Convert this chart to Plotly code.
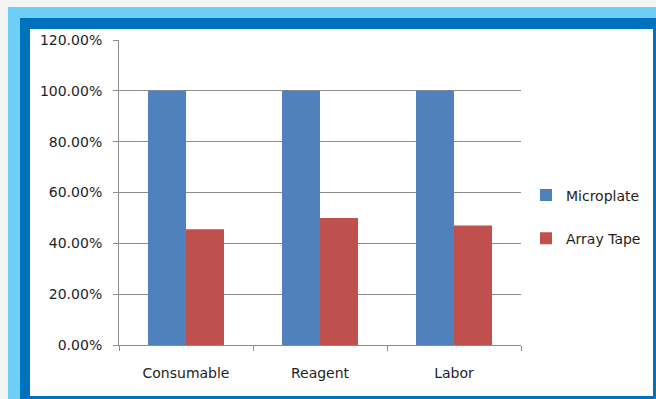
import plotly.graph_objects as go

categories = ["Consumable", "Reagent", "Labor"]
microplate = [1.00, 1.00, 1.00]
array_tape = [0.455, 0.50, 0.47]
y_ticks = [0, 0.2, 0.4, 0.6, 0.8, 1.0, 1.2]

W, H = 656, 399
L, R, T, B = 119, 521, 40, 345

def px(x):
    return (x - L) / (R - L)

def py(y):
    return (B - y) / (B - T)

FONT = "DejaVu Sans"
TXT = "#1e1e1e"
GRID = "#8c8c8c"

fig = go.Figure()
fig.add_trace(go.Bar(x=categories, y=microplate, name="Microplate",
                     marker=dict(color="#4f81bd", line=dict(width=0)),
                     legendgroup="a"))
fig.add_trace(go.Bar(x=categories, y=array_tape, name="Array Tape",
                     marker=dict(color="#c0504d", line=dict(width=0)),
                     legendgroup="b"))

shapes = [
    dict(type="rect", xref="paper", yref="paper", x0=px(8), x1=px(660), y0=py(7), y1=py(404),
         fillcolor="#6dcff6", line=dict(width=0), layer="below"),
    dict(type="rect", xref="paper", yref="paper", x0=px(20), x1=px(660), y0=py(18), y1=py(404),
         fillcolor="#0071bc", line=dict(width=0), layer="below"),
    dict(type="rect", xref="paper", yref="paper", x0=px(30), x1=px(653), y0=py(29), y1=py(396),
         fillcolor="#ffffff", line=dict(width=0), layer="below"),
]

fig.update_layout(
    width=W, height=H,
    margin=dict(l=L, r=W - R, t=T, b=H - B, pad=0, autoexpand=False),
    paper_bgcolor="#f3f3f3",
    plot_bgcolor="rgba(0,0,0,0)",
    barmode="group",
    bargap=0.433,
    bargroupgap=0,
    font=dict(family=FONT, size=14, color=TXT),
    shapes=shapes,
    showlegend=True,
    legend=dict(x=px(526), y=py(217), xanchor="left", yanchor="middle",
                traceorder="grouped", tracegroupgap=22,
                font=dict(family=FONT, size=14, color=TXT),
                bgcolor="rgba(0,0,0,0)", itemwidth=30),
    xaxis=dict(type="category", showgrid=False, showline=True, linecolor=GRID, linewidth=1,
               ticks="outside", tickson="boundaries", ticklen=5, tickcolor=GRID,
               ticklabelstandoff=15, tickfont=dict(family=FONT, size=14, color=TXT),
               range=[-0.5, 2.5]),
    yaxis=dict(range=[0, 1.2], tickvals=y_ticks, tickformat=".2%", showgrid=True,
               gridcolor=GRID, gridwidth=1, showline=True, linecolor=GRID, linewidth=1,
               ticks="outside", ticklen=5, tickcolor=GRID, zeroline=False,
               ticklabelstandoff=8, tickfont=dict(family=FONT, size=14, color=TXT)),
)

fig.write_html("out.html")
